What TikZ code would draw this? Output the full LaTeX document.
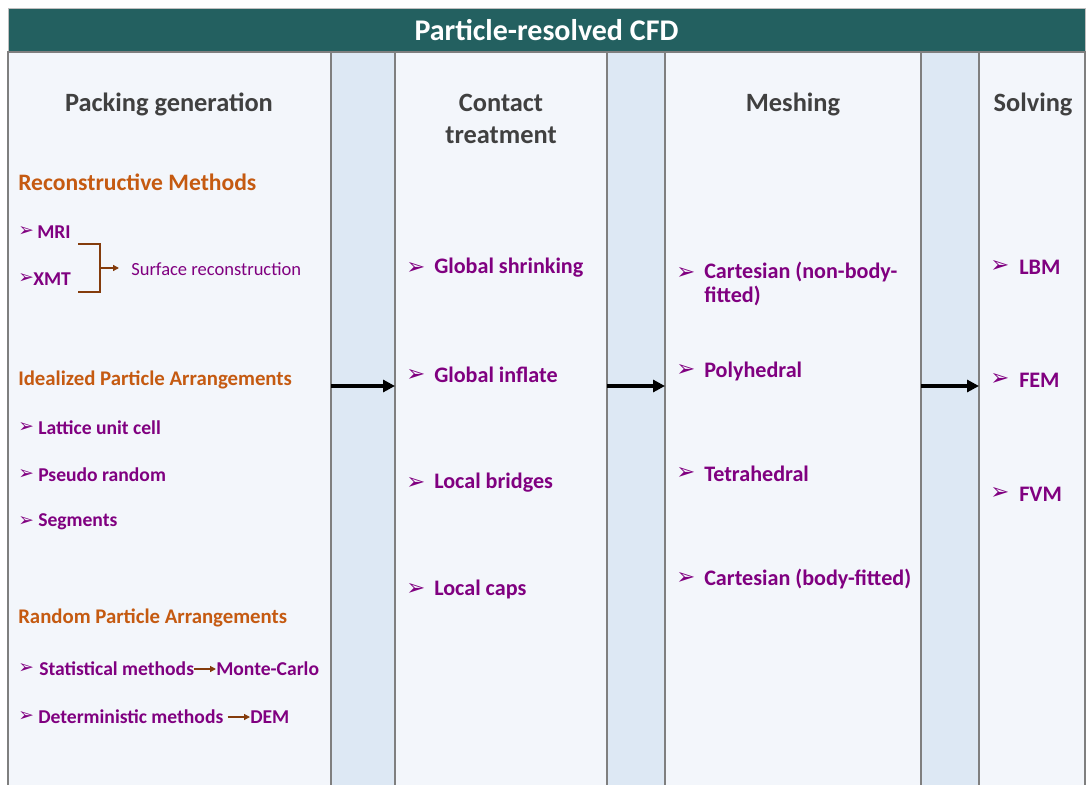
\documentclass[tikz,border=0pt]{standalone}
\usepackage{fontspec}
\setmainfont{Carlito}
\newfontfamily\djv{DejaVu Sans}
\usetikzlibrary{arrows.meta}
\definecolor{teal}{HTML}{236060}
\definecolor{colfill}{HTML}{F3F6FB}
\definecolor{gapfill}{HTML}{DDE8F4}
\definecolor{hdr}{HTML}{404040}
\definecolor{org}{HTML}{C55A11}
\definecolor{pur}{HTML}{800080}
\definecolor{brn}{HTML}{843C0C}
\definecolor{bord}{HTML}{7F7F7F}
\tikzset{
  colbox/.style={draw=bord, line width=1pt, fill=colfill},
  gapbox/.style={draw=bord, line width=0.8pt, fill=gapfill},
  header/.style={font=\fontsize{19.8}{23}\selectfont\bfseries, text=hdr, align=center, inner sep=0pt},
  sub/.style={font=\fontsize{17.7}{20}\selectfont\bfseries, text=org, anchor=west, inner sep=0pt},
  subs/.style={font=\fontsize{15.6}{18}\selectfont\bfseries, text=org, anchor=west, inner sep=0pt},
  item/.style={font=\fontsize{16.6}{19}\selectfont\bfseries, text=pur, anchor=west, inner sep=0pt, align=left},
  itemS/.style={font=\fontsize{14.7}{17}\selectfont\bfseries, text=pur, anchor=west, inner sep=0pt},
  bul/.style={font=\djv\fontsize{17}{19}\selectfont, text=pur, anchor=west, inner sep=0pt},
  bulS/.style={font=\djv\fontsize{14}{16}\selectfont, text=pur, anchor=west, inner sep=0pt},
  flow/.style={-{Triangle[length=9pt,width=9pt]}, line width=2.4pt, black},
  barrow/.style={-{Triangle[length=4.5pt,width=4.5pt]}, line width=1pt, brn},
}
\begin{document}
\begin{tikzpicture}[x=0.75pt,y=-0.75pt]
\useasboundingbox (0,0) rectangle (1086,785);
\fill[white] (0,0) rectangle (1086,785);
% title bar
\node[draw=bord!50, line width=0.5pt, fill=teal, minimum width=1077*0.75pt, minimum height=44*0.75pt, inner sep=0pt, text=white, font=\fontsize{22.5}{26}\selectfont\bfseries] (title) at (546.5,30) {Particle-resolved CFD};
% gaps
\path[gapbox] (331,52) rectangle (395,786);
\path[gapbox] (607,52) rectangle (665,786);
\path[gapbox] (921,52) rectangle (979,786);
% columns
\path[colbox] (8,52) rectangle (331,786);
\path[colbox] (395,52) rectangle (607,786);
\path[colbox] (665,52) rectangle (921,786);
\path[colbox] (979,52) rectangle (1085,786);
\coordinate (c1r) at (331,386);
\coordinate (c2l) at (395,386);
\coordinate (c2r) at (607,386);
\coordinate (c3l) at (665,386);
\coordinate (c3r) at (921,386);
\coordinate (c4l) at (979,386);
\draw[flow] (c1r) -- (c2l);
\draw[flow] (c2r) -- (c3l);
\draw[flow] (c3r) -- (c4l);
% headers
\node[header] (h1) at (169,104) {Packing generation};
\node[header] (h2) at (501,119) {Contact\\[1pt]treatment};
\node[header] (h3) at (793,104) {Meshing};
\node[header] (h4) at (1033,104) {Solving};
% column 1
\node[sub] (rm) at (18,182) {Reconstructive Methods};
\node[bulS] (b1) at (18,232) {➢};
\node[itemS] (mri) at (37,232) {MRI};
\node[bulS] (b2) at (18,279) {➢};
\node[itemS] (xmt) at (33,279) {XMT};
\coordinate (k1) at (78,244);
\coordinate (k2) at (100,244);
\coordinate (k3) at (100,292);
\coordinate (k4) at (78,292);
\coordinate (k5) at (100,268);
\node[font=\fontsize{13.9}{16}\selectfont, text=pur, anchor=west, inner sep=0pt] (surf) at (131,269) {Surface reconstruction};
\draw[brn, line width=1pt] (k1) -- (k2) -- (k3) -- (k4);
\draw[barrow] (k5) -- ([xshift=-12*0.75pt]surf.west |- k5);
\node[subs] (ipa) at (18,380) {Idealized Particle Arrangements};
\node[bulS] (b3) at (18,428) {➢};
\node[itemS] (luc) at (38,428) {Lattice unit cell};
\node[bulS] (b4) at (18,475) {➢};
\node[itemS] (pr) at (38,475) {Pseudo random};
\node[bulS] (b5) at (18,522) {➢};
\node[itemS] (seg) at (38,522) {Segments};
\node[subs] (rpa) at (18,618) {Random Particle Arrangements};
\node[bulS] (b6) at (18,669) {➢};
\node[itemS] (stat) at (39,669) {Statistical methods};
\node[itemS] (mc) at (216,669) {Monte-Carlo};
\draw[barrow] (stat.east) -- (mc.west);
\node[bulS] (b7) at (18,717) {➢};
\node[itemS] (det) at (38,717) {Deterministic methods};
\node[itemS] (dem) at (250,717) {DEM};
\draw[barrow] ([xshift=4*0.75pt]det.east) -- (dem.west);
% column 2
\node[bul] (b8) at (406,268) {➢};
\node[item] (gs) at (434,268) {Global shrinking};
\node[bul] (b9) at (406,375) {➢};
\node[item] (gi) at (434,375) {Global inflate};
\node[bul] (b10) at (406,483) {➢};
\node[item] (lb) at (434,483) {Local bridges};
\node[bul] (b11) at (406,589) {➢};
\node[item] (lc) at (434,589) {Local caps};
% column 3
\node[bul] (b12) at (676,273) {➢};
\node[item, anchor=north west] (cart1) at (704,262) {Cartesian (non-body-\\[-1pt]fitted)};
\node[bul] (b13) at (676,370) {➢};
\node[item] (poly) at (704,371) {Polyhedral};
\node[bul] (b14) at (676,473) {➢};
\node[item] (tet) at (704,474) {Tetrahedral};
\node[bul] (b15) at (676,578) {➢};
\node[item] (cart2) at (704,579) {Cartesian (body-fitted)};
% column 4
\node[bul] (b16) at (990,266) {➢};
\node[item] (lbm) at (1019,267) {LBM};
\node[bul] (b17) at (990,379) {➢};
\node[item] (fem) at (1019,380) {FEM};
\node[bul] (b18) at (990,493) {➢};
\node[item] (fvm) at (1019,494) {FVM};
\end{tikzpicture}
\end{document}
